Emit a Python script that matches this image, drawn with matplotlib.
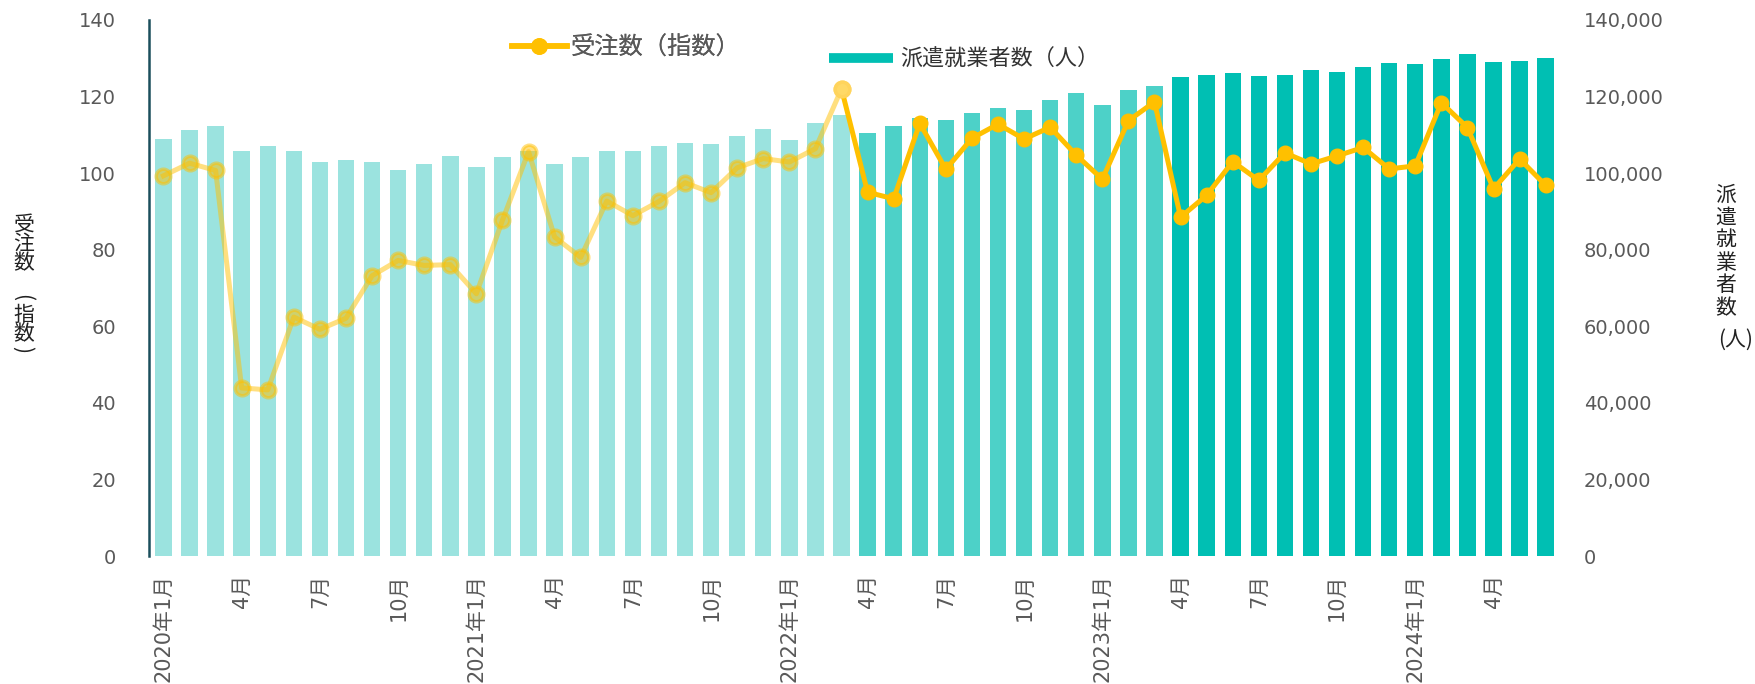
import numpy as np
import matplotlib.pyplot as plt
from matplotlib.lines import Line2D

plt.rcParams['font.family'] = ['Noto Sans CJK JP', 'DejaVu Sans']

# 月次データ 2020年1月〜2024年6月
years = [2020, 2021, 2022, 2023, 2024]
n_months = 54
orders = [99.3, 102.6, 100.7, 43.9, 43.4, 62.4, 59.2, 62.1, 73.2, 77.2, 75.9, 76.1,
          68.5, 87.7, 105.6, 83.3, 78.0, 92.7, 88.9, 92.6, 97.5, 94.9, 101.4, 103.8,
          102.9, 106.4, 122.0, 95.0, 93.3, 113.0, 101.0, 109.1, 112.8, 108.9, 112.0, 104.7,
          98.4, 113.7, 118.6, 88.5, 94.2, 103.0, 98.1, 105.3, 102.4, 104.5, 106.7, 101.1,
          101.9, 118.4, 111.9, 95.9, 103.7, 96.8]
workers = [108800, 111200, 112400, 105700, 107000, 105700, 102900, 103300, 102900, 100700, 102300, 104400,
           101500, 104100, 105800, 102300, 104100, 105700, 105700, 107000, 107800, 107500, 109600, 111400,
           108600, 113200, 115100, 110600, 112400, 114300, 113800, 115600, 116900, 116400, 119000, 120900,
           117700, 121700, 122700, 125000, 125500, 126100, 125300, 125700, 126900, 126500, 127600, 128700,
           128400, 129700, 131000, 128900, 129400, 130000]
# 期間ごとの月数（色分け）
period_len = [27, 12, 15]
period_colors = ['#9BE3DF', '#4DD1C8', '#00BFB3']

labels = []
for i in range(n_months):
    y = years[i // 12]
    m = i % 12 + 1
    if i % 3:
        labels.append('')
    elif m == 1:
        labels.append(f'{y}年1月')
    else:
        labels.append(f'{m}月')

x = np.arange(n_months)
bar_colors = []
for c, n in zip(period_colors, period_len):
    bar_colors += [c] * n

fig = plt.figure(figsize=(17.56, 6.84), dpi=100)
ax = fig.add_axes([0.0849, 0.1871, 0.8035, 0.7837])
ax2 = ax.twinx()

ax2.bar(x, workers, width=0.63, color=bar_colors, zorder=1)
ax.set_zorder(ax2.get_zorder() + 1)
ax.patch.set_visible(False)

yellow = '#FFC000'
k = period_len[0]
ax.plot(x[:k], orders[:k], color=yellow, alpha=0.5, lw=3.6,
        marker='o', ms=10.5, mew=2.5)
ax.plot(x[k - 1:], orders[k - 1:], color=yellow, lw=3.6,
        marker='o', ms=10.5)
# 2022年3月の点は薄い表示のまま
ax.plot(x[k - 1], orders[k - 1], 'o', color='#FFD966', ms=10.5, mew=2.5,
        mec='#FFD45C')

ax.set_xlim(-0.55, n_months - 0.45)
ax.set_ylim(0, 140)
ax2.set_ylim(0, 140000)
ax.set_yticks(range(0, 141, 20))
ax2.set_yticks(range(0, 140001, 20000))
ax2.set_yticklabels([f'{v:,}' for v in range(0, 140001, 20000)])
ax.set_xticks(x)
ax.set_xticklabels(labels, rotation=90, va='top', ha='center',
                   family=['DejaVu Sans', 'Noto Sans CJK JP'])

for a in (ax, ax2):
    for s in a.spines.values():
        s.set_visible(False)
ax.spines['left'].set_visible(True)
ax.spines['left'].set_color('#1B4F5C')
ax.spines['left'].set_linewidth(1.8)

ax.tick_params(axis='x', length=0, pad=13, labelsize=15, labelcolor='#595959')
ax.tick_params(axis='y', length=0, pad=24, labelsize=14, labelcolor='#595959')
ax2.tick_params(axis='y', length=0, pad=17, labelsize=14, labelcolor='#595959')
for t in ax.get_yticklabels() + ax2.get_yticklabels():
    t.set_fontfamily('DejaVu Sans')

# 縦書きの軸タイトル（括弧は回転して表示）
left_chars = ['受', '注', '数', '(', '指', '数', ')']
left_y = [225, 244, 263, 298, 315, 334, 350]
for ch, yy in zip(left_chars, left_y):
    if ch in '()':
        fig.text(22.5 / 1756, 1 - yy / 684, ch, fontsize=15, rotation=-90,
                 ha='center', va='center', color='#222222')
    else:
        fig.text(24 / 1756, 1 - yy / 684, ch, fontsize=15,
                 ha='center', va='center', color='#222222')
right_chars = ['派', '遣', '就', '業', '者', '数']
for j, ch in enumerate(right_chars):
    fig.text(1726 / 1756, 1 - (195 + j * 22.6) / 684, ch, fontsize=15,
             ha='center', va='center', color='#222222')
fig.text(1736 / 1756, 1 - 340 / 684, '(人)', fontsize=15,
         ha='center', va='center', color='#222222')

# 凡例
h1 = Line2D([], [], color=yellow, lw=4, marker='o', ms=11)
leg1 = fig.legend([h1], ['受注数（指数）'], loc='center left',
                  bbox_to_anchor=(500 / 1756, 1 - 48 / 684), frameon=False,
                  handlelength=2.25, handletextpad=0.15, borderpad=0,
                  fontsize=17.5, labelcolor='#595959')
h2 = Line2D([], [], color='#00BFB3', lw=7, solid_capstyle='butt')
fig.legend([h2], ['派遣就業者数（人）'], loc='center left',
           bbox_to_anchor=(818 / 1756, 1 - 60 / 684), frameon=False,
           handlelength=2.9, handletextpad=0.3, borderpad=0,
           fontsize=15.9, labelcolor='#333333')
fig.add_artist(leg1)

fig.savefig('out.png', dpi=100)
